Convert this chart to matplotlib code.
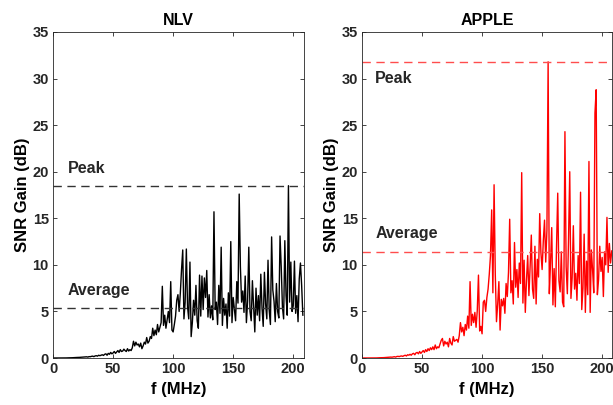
import numpy as np
import matplotlib
matplotlib.use("Agg")
import matplotlib.pyplot as plt

plt.rcParams["font.family"] = ["Liberation Sans", "DejaVu Sans"]
plt.rcParams["font.weight"] = "bold"

# frequency axis, 1 MHz steps
freq = list(range(0, 209))

nlv_gain = [
    0.0, 0.0, 0.0, 0.0, 0.0, 0.0, 0.0, 0.0, 0.0, 0.01,
    0.01, 0.01, 0.02, 0.02, 0.02, 0.03, 0.03, 0.04, 0.04, 0.05,
    0.06, 0.06, 0.07, 0.08, 0.08, 0.1, 0.1, 0.12, 0.13, 0.1,
    0.15, 0.14, 0.18, 0.2, 0.15, 0.22, 0.25, 0.2, 0.3, 0.25,
    0.3, 0.35, 0.28, 0.4, 0.45, 0.3, 0.5, 0.4, 0.6, 0.45,
    0.55, 0.7, 0.5, 0.65, 0.8, 0.6, 0.9, 0.7, 0.75, 0.95,
    0.8, 0.7, 1.0, 0.75, 0.9, 0.8, 1.1, 1.8, 1.3, 1.7,
    1.4, 1.5, 1.2, 1.6, 1.0, 1.3, 1.7, 1.5, 2.2, 1.6,
    1.8, 2.3, 2.1, 3.2, 2.4, 3.0, 2.5, 3.6, 2.8, 3.3,
    3.8, 7.7, 3.5, 4.6, 3.2, 4.1, 5.0, 3.8, 8.2, 3.0,
    2.8, 3.6, 4.5, 6.2, 6.8, 5.0, 7.0, 9.5, 11.6, 4.2,
    6.0, 11.7, 5.5, 4.2, 10.3, 2.3, 3.8, 6.2, 4.6, 7.8,
    4.0, 3.2, 8.9, 4.5, 8.8, 5.2, 8.6, 6.5, 9.4, 4.4,
    6.8, 4.3, 5.6, 4.1, 15.7, 5.2, 6.0, 3.6, 7.8, 4.8,
    11.9, 3.5, 6.4, 4.6, 5.8, 3.2, 7.0, 4.5, 12.5, 3.8,
    6.5, 5.2, 4.0, 8.2, 5.9, 17.6, 9.8, 6.0, 7.2, 4.9,
    8.8, 3.8, 6.1, 11.9, 5.0, 4.0, 8.3, 5.6, 2.8, 7.5,
    4.6, 6.7, 4.0, 9.0, 5.4, 3.4, 9.2, 5.8, 4.2, 10.5,
    5.1, 3.6, 13.0, 7.3, 6.1, 3.9, 8.0, 5.0, 4.3, 13.1,
    9.8, 5.5, 4.2, 12.6, 6.7, 4.6, 18.5, 6.0, 10.3, 5.0,
    5.6, 10.4, 4.8, 6.7, 3.9, 8.5, 10.2, 7.8, 4.6,
]

apple_gain = [
    0.0, 0.0, 0.0, 0.0, 0.0, 0.0, 0.0, 0.0, 0.0, 0.0,
    0.01, 0.01, 0.01, 0.02, 0.02, 0.03, 0.03, 0.04, 0.04, 0.05,
    0.05, 0.06, 0.07, 0.08, 0.1, 0.09, 0.12, 0.14, 0.1, 0.16,
    0.18, 0.15, 0.2, 0.22, 0.18, 0.25, 0.3, 0.22, 0.35, 0.3,
    0.4, 0.3, 0.45, 0.5, 0.35, 0.55, 0.6, 0.45, 0.7, 0.5,
    0.65, 0.8, 0.6, 0.9, 0.7, 1.0, 0.8, 1.1, 0.9, 1.2,
    0.9, 1.4, 1.0, 1.2, 1.1, 1.5, 1.9, 2.1, 1.3, 1.8,
    1.5, 1.7, 1.2, 2.1, 1.6, 1.4, 2.3, 1.8, 1.9, 2.0,
    1.7, 2.4, 3.8, 2.8, 3.3, 2.4, 3.6, 3.0, 4.5, 3.2,
    8.2, 3.5, 4.7, 3.8, 4.9, 3.3, 5.1, 8.9, 2.9, 3.4,
    2.6, 6.0, 6.2, 5.0, 6.5, 7.4, 9.0, 11.0, 15.9, 7.0,
    18.6, 9.0, 3.9, 5.8, 8.2, 3.0, 6.3, 5.6, 6.4, 4.8,
    8.0, 6.6, 9.2, 14.9, 7.0, 8.3, 5.8, 12.4, 7.6, 9.5,
    6.5, 10.2, 8.0, 19.9, 5.9, 10.5, 4.9, 8.4, 11.0, 6.7,
    9.8, 13.2, 7.4, 6.4, 12.0, 5.8, 10.6, 8.7, 15.5, 11.3,
    9.5, 12.6, 14.8, 10.3, 13.7, 31.8, 6.9, 10.2, 14.0, 5.7,
    9.6, 5.5, 12.0, 17.7, 8.3, 7.1, 11.4, 6.0, 5.5, 24.3,
    9.8, 6.9, 12.8, 20.0, 6.4, 8.6, 14.2, 7.4, 9.1, 6.2,
    11.0, 8.0, 17.8, 5.2, 7.5, 13.3, 4.9, 10.4, 6.8, 21.1,
    4.9, 11.6, 9.5, 7.0, 26.3, 28.8, 6.8, 8.4, 12.0, 9.3,
    10.8, 6.6, 11.4, 10.0, 15.1, 9.2, 12.3, 10.2, 11.5,
]

nlv_peak, nlv_avg = 18.5, 5.4
apple_peak, apple_avg = 31.8, 11.4

fig = plt.figure(figsize=(6.13, 4.05), dpi=100)
ax1 = fig.add_axes([0.0865, 0.116, 0.4095, 0.805])
ax2 = fig.add_axes([0.5905, 0.116, 0.4075, 0.805])

panels = [
    (ax1, "NLV", nlv_gain, "black", "#333333", nlv_peak, nlv_avg, 209, (12, 20.3), (12, 7.3)),
    (ax2, "APPLE", apple_gain, "red", "#ff4d4d", apple_peak, apple_avg, 208, (11, 30.0), (11, 13.4)),
]

for ax, name, gain, color, dash_color, peak, avg, xmax, peak_pos, avg_pos in panels:
    ax.plot(freq, gain, color=color, lw=1.0)
    ax.axhline(peak, color=dash_color, lw=1, ls=(0, (6, 4)))
    ax.axhline(avg, color=dash_color, lw=1, ls=(0, (6, 4)))
    ax.text(peak_pos[0], peak_pos[1], "Peak", fontsize=11.5, fontweight="bold",
            color="#262626", ha="left", va="center")
    ax.text(avg_pos[0], avg_pos[1], "Average", fontsize=11.5, fontweight="bold",
            color="#262626", ha="left", va="center")
    ax.set_xlim(0, xmax)
    ax.set_ylim(0, 35)
    ax.set_xticks([0, 50, 100, 150, 200])
    ax.set_yticks(range(0, 36, 5))
    ax.set_title(name, fontsize=11.5, fontweight="bold", pad=5)
    ax.set_xlabel("f (MHz)", fontsize=12, fontweight="bold")
    ax.set_ylabel("SNR Gain (dB)", fontsize=12, fontweight="bold", labelpad=2)
    ax.tick_params(direction="in", top=True, right=True, labelsize=10.5,
                   length=3, width=0.6, colors="#262626", pad=3)
    for s in ax.spines.values():
        s.set_color("#262626")
        s.set_linewidth(0.6)
    for lab in ax.get_xticklabels() + ax.get_yticklabels():
        lab.set_fontweight("bold")

fig.savefig("out.png", dpi=100)
